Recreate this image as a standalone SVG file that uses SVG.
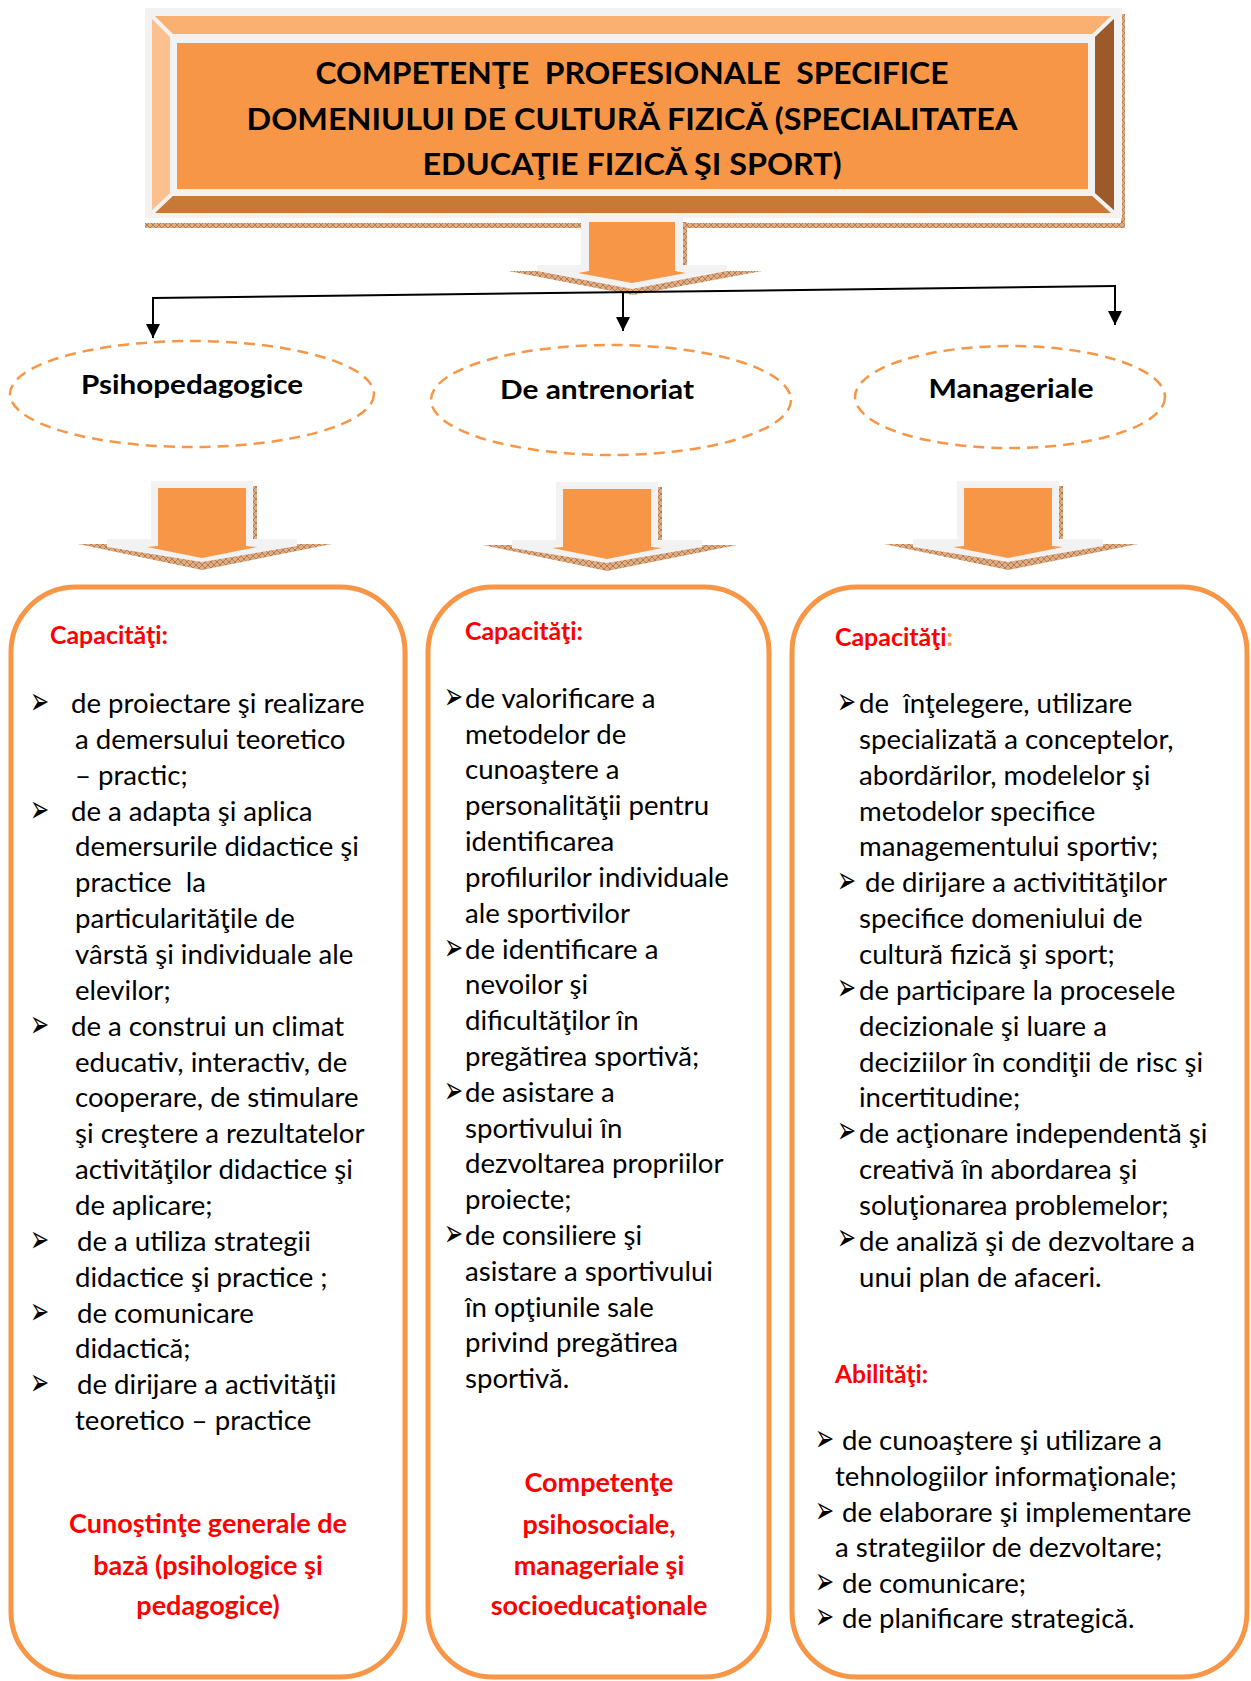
<svg xmlns="http://www.w3.org/2000/svg" width="1251" height="1681" viewBox="0 0 1251 1681">
<style>
.body{font-family:Lato,"Open Sans","Liberation Sans",sans-serif;font-size:27.6px;fill:#000}
.bul{font-family:"DejaVu Sans",sans-serif;font-size:38px;fill:#000}
.red{font-family:Lato,"Liberation Sans",sans-serif;font-weight:bold;fill:#FF0000}
.hd{font-size:24px}
.big{font-size:27px;text-anchor:middle}
.title{font-family:Lato,"Liberation Sans",sans-serif;font-weight:bold;font-size:31px;fill:#000;text-anchor:middle}
.lab{font-family:Lato,"Liberation Sans",sans-serif;font-weight:bold;font-size:27px;fill:#000;text-anchor:middle}
.ell{fill:#fff;stroke:#F79646;stroke-width:2.5;stroke-dasharray:11 7}
.box{fill:#fff;stroke:#F79646;stroke-width:5}
.gray{fill:#F2F2F2}
.org{fill:#F79646}
.conn{stroke:#000;stroke-width:2;fill:none}
</style>
<defs>
<pattern id="hatch" width="6" height="6" patternUnits="userSpaceOnUse">
<rect width="6" height="6" fill="#DCAE88"/>
<path d="M0,0 L6,6 M6,0 L0,6" stroke="#B46E3A" stroke-width="0.8"/>
</pattern>
<marker id="ah" markerUnits="userSpaceOnUse" markerWidth="14" markerHeight="14" viewBox="0 0 14 14" refX="14" refY="7" orient="auto">
<path d="M0,0 L14,7 L0,14 z" fill="#000"/>
</marker>
</defs>

<g id="title">
<rect x="1121" y="14" width="4" height="214" fill="url(#hatch)"/>
<rect x="145" y="223" width="980" height="5" fill="url(#hatch)"/>
<rect x="145" y="8" width="977" height="210" class="gray"/>
<polygon points="152,16 1114,16 1095,34 170,34" fill="#FAB070"/>
<polygon points="170,196 1095,196 1114,213 152,213" fill="#C77936"/>
<polygon points="152,16 170,34 170,196 152,213" fill="#FBC08D"/>
<polygon points="1114,16 1095,34 1095,196 1114,213" fill="#9C5A2B"/>
<path d="M152,16 L172,36 M1114,16 L1093,36 M152,213 L172,194 M1114,213 L1093,194" stroke="#F2F2F2" stroke-width="4"/>
<rect x="170" y="34" width="925" height="162" class="gray"/>
<rect x="177" y="43" width="911" height="146" class="org"/>
<text class="title" x="632" y="84" textLength="633" lengthAdjust="spacingAndGlyphs">COMPETENŢE&#160; PROFESIONALE&#160; SPECIFICE</text>
<text class="title" x="632" y="130" textLength="771" lengthAdjust="spacingAndGlyphs">DOMENIULUI DE CULTURĂ FIZICĂ (SPECIALITATEA</text>
<text class="title" x="632" y="175" textLength="419" lengthAdjust="spacingAndGlyphs">EDUCAŢIE FIZICĂ ŞI SPORT)</text>
</g>

<g id="connectors">
<g id="arrow-top">
<rect x="683" y="222" width="4" height="45" fill="url(#hatch)"/>
<polygon points="508,271 762,271 633,295" fill="url(#hatch)"/>
<polygon points="581,213 683,213 683,265 727,265 727,271 632,289 537,271 537,265 581,265" class="gray"/>
<polygon points="589,222 675,222 675,271 686,273 632,283 578,273 589,271" class="org"/>
</g>
<path class="conn" d="M153,298 L1115,286"/>
<path class="conn" d="M153,297 L153,338" marker-end="url(#ah)"/>
<path class="conn" d="M623,292 L623,331" marker-end="url(#ah)"/>
<path class="conn" d="M1115,285 L1115,325" marker-end="url(#ah)"/>
<g id="arrow-1" transform="translate(202,481)">
<rect x="51" y="5" width="4" height="55" fill="url(#hatch)"/>
<polygon points="-124,63 130,63 0,89" fill="url(#hatch)"/>
<polygon points="-51,0 51,0 51,58 95,58 95,65 0,81 -95,66 -95,58 -51,58" class="gray"/>
<polygon points="-44,7 44,7 44,65 55,66 0,77 -55,66 -44,65" class="org"/>
</g>
<g id="arrow-2" transform="translate(607,482)">
<rect x="51" y="5" width="4" height="55" fill="url(#hatch)"/>
<polygon points="-124,63 130,63 0,89" fill="url(#hatch)"/>
<polygon points="-51,0 51,0 51,58 95,58 95,65 0,81 -95,66 -95,58 -51,58" class="gray"/>
<polygon points="-44,7 44,7 44,65 55,66 0,77 -55,66 -44,65" class="org"/>
</g>
<g id="arrow-3" transform="translate(1008,481)">
<rect x="51" y="5" width="4" height="55" fill="url(#hatch)"/>
<polygon points="-124,63 130,63 0,89" fill="url(#hatch)"/>
<polygon points="-51,0 51,0 51,58 95,58 95,65 0,81 -95,66 -95,58 -51,58" class="gray"/>
<polygon points="-44,7 44,7 44,65 55,66 0,77 -55,66 -44,65" class="org"/>
</g>
</g>

<g id="node-psihopedagogice">
<ellipse class="ell" cx="192" cy="394" rx="182" ry="53"/>
<text class="lab" x="192" y="394" textLength="222" lengthAdjust="spacingAndGlyphs">Psihopedagogice</text>
</g>
<g id="node-antrenoriat">
<ellipse class="ell" cx="611" cy="400" rx="180" ry="55"/>
<text class="lab" x="597" y="399" textLength="194" lengthAdjust="spacingAndGlyphs">De antrenoriat</text>
</g>
<g id="node-manageriale">
<ellipse class="ell" cx="1010" cy="397" rx="155" ry="51"/>
<text class="lab" x="1011" y="398" textLength="165" lengthAdjust="spacingAndGlyphs">Manageriale</text>
</g>

<g id="box-1">
<rect class="box" x="11" y="587" width="394" height="1090" rx="65" ry="65"/>
<text class="red hd" x="50" y="644" textLength="118" lengthAdjust="spacingAndGlyphs">Capacităţi:</text>
<text class="bul" transform="translate(30,714) scale(0.6,1)">➢</text>
<text class="bul" transform="translate(30,822) scale(0.6,1)">➢</text>
<text class="bul" transform="translate(30,1037) scale(0.6,1)">➢</text>
<text class="bul" transform="translate(30,1252) scale(0.6,1)">➢</text>
<text class="bul" transform="translate(30,1324) scale(0.6,1)">➢</text>
<text class="bul" transform="translate(30,1395) scale(0.6,1)">➢</text>
<text class="body" x="71" y="713">de proiectare şi realizare</text>
<text class="body" x="75" y="749">a demersului teoretico</text>
<text class="body" x="75" y="785">– practic;</text>
<text class="body" x="71" y="821">de a adapta şi aplica</text>
<text class="body" x="75" y="856">demersurile didactice şi</text>
<text class="body" x="75" y="892">practice&#160; la</text>
<text class="body" x="75" y="928">particularităţile de</text>
<text class="body" x="75" y="964">vârstă şi individuale ale</text>
<text class="body" x="75" y="1000">elevilor;</text>
<text class="body" x="71" y="1036">de a construi un climat</text>
<text class="body" x="75" y="1072">educativ, interactiv, de</text>
<text class="body" x="75" y="1107">cooperare, de stimulare</text>
<text class="body" x="75" y="1143">şi creştere a rezultatelor</text>
<text class="body" x="75" y="1179">activităţilor didactice şi</text>
<text class="body" x="75" y="1215">de aplicare;</text>
<text class="body" x="77" y="1251">de a utiliza strategii</text>
<text class="body" x="75" y="1287">didactice şi practice ;</text>
<text class="body" x="77" y="1323">de comunicare</text>
<text class="body" x="75" y="1358">didactică;</text>
<text class="body" x="77" y="1394">de dirijare a activităţii</text>
<text class="body" x="75" y="1430">teoretico – practice</text>
<text class="red big" x="208" y="1533">Cunoştinţe generale de</text>
<text class="red big" x="208" y="1575">bază (psihologice şi</text>
<text class="red big" x="208" y="1615">pedagogice)</text>
</g>

<g id="box-2">
<rect class="box" x="428" y="587" width="341" height="1090" rx="65" ry="65"/>
<text class="red hd" x="465" y="640" textLength="118" lengthAdjust="spacingAndGlyphs">Capacităţi:</text>
<text class="bul" transform="translate(444,709) scale(0.6,1)">➢</text>
<text class="bul" transform="translate(444,960) scale(0.6,1)">➢</text>
<text class="bul" transform="translate(444,1103) scale(0.6,1)">➢</text>
<text class="bul" transform="translate(444,1246) scale(0.6,1)">➢</text>
<text class="body" x="465" y="708">de valorificare a</text>
<text class="body" x="465" y="744">metodelor de</text>
<text class="body" x="465" y="779">cunoaştere a</text>
<text class="body" x="465" y="815">personalităţii pentru</text>
<text class="body" x="465" y="851">identificarea</text>
<text class="body" x="465" y="887">profilurilor individuale</text>
<text class="body" x="465" y="923">ale sportivilor</text>
<text class="body" x="465" y="959">de identificare a</text>
<text class="body" x="465" y="994">nevoilor şi</text>
<text class="body" x="465" y="1030">dificultăţilor în</text>
<text class="body" x="465" y="1066">pregătirea sportivă;</text>
<text class="body" x="465" y="1102">de asistare a</text>
<text class="body" x="465" y="1138">sportivului în</text>
<text class="body" x="465" y="1173">dezvoltarea propriilor</text>
<text class="body" x="465" y="1209">proiecte;</text>
<text class="body" x="465" y="1245">de consiliere şi</text>
<text class="body" x="465" y="1281">asistare a sportivului</text>
<text class="body" x="465" y="1317">în opţiunile sale</text>
<text class="body" x="465" y="1352">privind pregătirea</text>
<text class="body" x="465" y="1388">sportivă.</text>
<text class="red big" x="599" y="1492">Competenţe</text>
<text class="red big" x="599" y="1534">psihosociale,</text>
<text class="red big" x="599" y="1575">manageriale şi</text>
<text class="red big" x="599" y="1615">socioeducaţionale</text>
</g>

<g id="box-3">
<rect class="box" x="792" y="587" width="455" height="1090" rx="65" ry="65"/>
<text class="red hd" x="835" y="646" textLength="118" lengthAdjust="spacingAndGlyphs">Capacităţi<tspan fill="#F79646">:</tspan></text>
<text class="bul" transform="translate(837,714) scale(0.6,1)">➢</text>
<text class="bul" transform="translate(837,893) scale(0.6,1)">➢</text>
<text class="bul" transform="translate(837,1000) scale(0.6,1)">➢</text>
<text class="bul" transform="translate(837,1143) scale(0.6,1)">➢</text>
<text class="bul" transform="translate(837,1250) scale(0.6,1)">➢</text>
<text class="body" x="859" y="713">de&#160; înţelegere, utilizare</text>
<text class="body" x="859" y="749">specializată a conceptelor,</text>
<text class="body" x="859" y="785">abordărilor, modelelor şi</text>
<text class="body" x="859" y="821">metodelor specifice</text>
<text class="body" x="859" y="856">managementului sportiv;</text>
<text class="body" x="865" y="892">de dirijare a activitităţilor</text>
<text class="body" x="859" y="928">specifice domeniului de</text>
<text class="body" x="859" y="964">cultură fizică şi sport;</text>
<text class="body" x="859" y="1000">de participare la procesele</text>
<text class="body" x="859" y="1036">decizionale şi luare a</text>
<text class="body" x="859" y="1072">deciziilor în condiţii de risc şi</text>
<text class="body" x="859" y="1107">incertitudine;</text>
<text class="body" x="859" y="1143">de acţionare independentă şi</text>
<text class="body" x="859" y="1179">creativă în abordarea şi</text>
<text class="body" x="859" y="1215">soluţionarea problemelor;</text>
<text class="body" x="859" y="1251">de analiză şi de dezvoltare a</text>
<text class="body" x="859" y="1287">unui plan de afaceri.</text>
<text class="red hd" x="835" y="1383" textLength="93" lengthAdjust="spacingAndGlyphs">Abilităţi:</text>
<text class="bul" transform="translate(815,1451) scale(0.6,1)">➢</text>
<text class="bul" transform="translate(815,1523) scale(0.6,1)">➢</text>
<text class="bul" transform="translate(815,1594) scale(0.6,1)">➢</text>
<text class="bul" transform="translate(815,1629) scale(0.6,1)">➢</text>
<text class="body" x="842" y="1450">de cunoaştere şi utilizare a</text>
<text class="body" x="835" y="1486">tehnologiilor informaţionale;</text>
<text class="body" x="842" y="1522">de elaborare şi implementare</text>
<text class="body" x="835" y="1557">a strategiilor de dezvoltare;</text>
<text class="body" x="842" y="1593">de comunicare;</text>
<text class="body" x="842" y="1628">de planificare strategică.</text>
</g>
</svg>
